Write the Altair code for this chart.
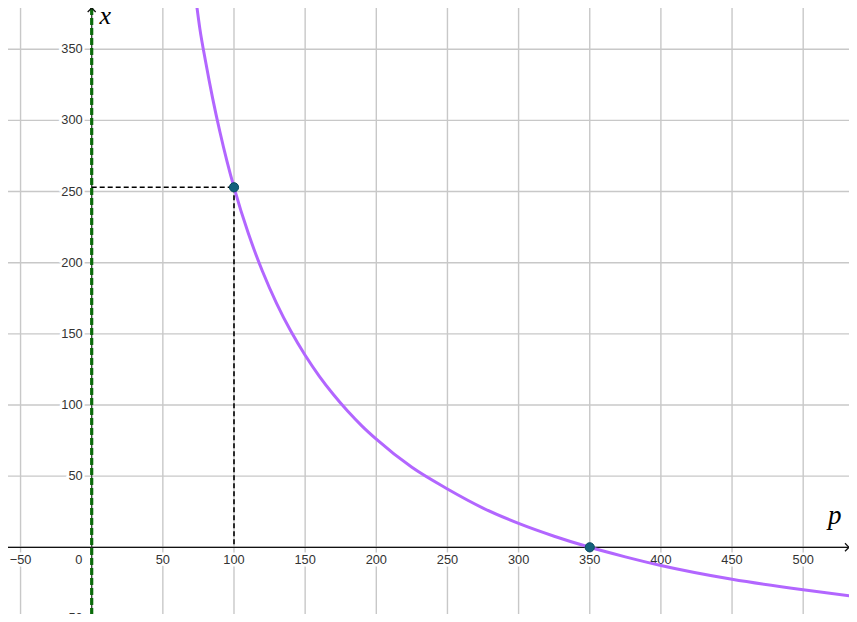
import altair as alt
import pandas as pd

# ---------------- data ----------------
curve_p = [73.3, 76, 80, 85, 90, 95, 100, 110, 120, 130, 140, 150, 160, 170, 180, 190, 200,
           225, 250, 275, 300, 325, 350, 375, 400, 450, 500, 537.8]
curve_x = [384.6, 364.5, 341.5, 315.5, 292.4, 271.6, 253, 220.8, 194, 171.3, 151.8, 135, 120.2,
           107.2, 95.6, 85.2, 76, 56.2, 41, 27.6, 16.8, 7.8, 0, -6.7, -12.8, -22.5, -29.9, -34.7]

point_p = [100, 350]
point_x = [253, 0]

guide_p_start = [0, 100]
guide_x_start = [253, 253]
guide_p_end = [100, 100]
guide_x_end = [253, 0]

grid_p = [-50, 0, 50, 100, 150, 200, 250, 300, 350, 400, 450, 500]
grid_x = [-50, 0, 50, 100, 150, 200, 250, 300, 350]

xtick_vals = [-50, 50, 100, 150, 200, 250, 300, 350, 400, 450, 500]
xtick_text = ["\u221250", "50", "100", "150", "200", "250", "300", "350", "400", "450", "500"]
ytick_vals = [-50, 50, 100, 150, 200, 250, 300, 350]
ytick_text = ["\u221250", "50", "100", "150", "200", "250", "300", "350"]

# ---------------- layout ----------------
W, H = 841, 606
P_MIN, P_MAX = -58.82, 532.19
X_MIN, X_MAX = -46.87, 378.99

xs = alt.Scale(domain=[P_MIN, P_MAX], nice=False, zero=False)
ys = alt.Scale(domain=[X_MIN, X_MAX], nice=False, zero=False)

df_curve = pd.DataFrame({"p": curve_p, "x": curve_x})
df_pts = pd.DataFrame({"p": point_p, "x": point_x})
df_guides = pd.DataFrame({"ps": guide_p_start, "xs": guide_x_start,
                          "pe": guide_p_end, "xe": guide_x_end})
df_gp = pd.DataFrame({"p": grid_p})
df_gx = pd.DataFrame({"x": grid_x})
df_xt = pd.DataFrame({"p": xtick_vals, "t": xtick_text, "z": [0] * len(xtick_vals)})
df_yt = pd.DataFrame({"x": ytick_vals, "t": ytick_text, "z": [0] * len(ytick_vals)})
df_origin = pd.DataFrame({"p": [0], "x": [0], "t": ["0"]})
df_xarrow = pd.DataFrame({"p": [P_MAX], "x": [0]})
df_yarrow = pd.DataFrame({"p": [0], "x": [X_MAX]})

X = lambda f: alt.X(f, scale=xs, axis=None)
Y = lambda f: alt.Y(f, scale=ys, axis=None)

GRID = "#c8c8c8"
LBL = "#333333"
FONT = "Liberation Sans"
FS = 12.8

grid_v = alt.Chart(df_gp).mark_rule(color=GRID, strokeWidth=1.4).encode(x=X("p:Q"))
grid_h = alt.Chart(df_gx).mark_rule(color=GRID, strokeWidth=1.4).encode(y=Y("x:Q"))

# label halos (white background like GeoGebra)
xt_halo = alt.Chart(df_xt).mark_text(font=FONT, fontSize=FS, color="white", stroke="white",
                                     strokeWidth=5, dy=13, baseline="middle").encode(
    x=X("p:Q"), y=Y("z:Q"), text="t:N")
yt_halo = alt.Chart(df_yt).mark_text(font=FONT, fontSize=FS, color="white", stroke="white",
                                     strokeWidth=5, dx=-9, align="right", baseline="middle").encode(
    x=X("z:Q"), y=Y("x:Q"), text="t:N")
o_halo = alt.Chart(df_origin).mark_text(font=FONT, fontSize=FS, color="white", stroke="white",
                                        strokeWidth=5, dx=-13, dy=13, baseline="middle").encode(
    x=X("p:Q"), y=Y("x:Q"), text="t:N")

x_axis = alt.Chart(pd.DataFrame({"x": [0]})).mark_rule(color="#111111", strokeWidth=1.3).encode(y=Y("x:Q"))
y_axis = alt.Chart(pd.DataFrame({"p": [0]})).mark_rule(color="#333333", strokeWidth=1.2).encode(x=X("p:Q"))

xt = alt.Chart(df_xt).mark_text(font=FONT, fontSize=FS, color=LBL, dy=13, baseline="middle").encode(
    x=X("p:Q"), y=Y("z:Q"), text="t:N")
yt = alt.Chart(df_yt).mark_text(font=FONT, fontSize=FS, color=LBL, dx=-9, align="right",
                                baseline="middle").encode(x=X("z:Q"), y=Y("x:Q"), text="t:N")
ot = alt.Chart(df_origin).mark_text(font=FONT, fontSize=FS, color=LBL, dx=-13, dy=13,
                                    baseline="middle").encode(x=X("p:Q"), y=Y("x:Q"), text="t:N")

guides = alt.Chart(df_guides).mark_rule(color="#000000", strokeWidth=1.6, strokeDash=[5, 3]).encode(
    x=X("ps:Q"), y=Y("xs:Q"), x2="pe:Q", y2="xe:Q")

curve = alt.Chart(df_curve).mark_line(color="#b266ff", strokeWidth=3, interpolate="monotone",
                                      clip=True).encode(x=X("p:Q"), y=Y("x:Q"), order="p:Q")

green = alt.Chart(pd.DataFrame({"p": [0]})).mark_rule(color="#0a6b0a", strokeWidth=3.2,
                                                      strokeDash=[7, 3]).encode(x=X("p:Q"))

pts = alt.Chart(df_pts).mark_point(shape="circle", filled=True, size=85, color="#13607c",
                                   stroke="#0b4a60", strokeWidth=1, opacity=1).encode(
    x=X("p:Q"), y=Y("x:Q"))

xarrow = alt.Chart(df_xarrow).mark_point(shape="M-1,-1L0,0L-1,1", filled=False, size=64,
                                         color="#111111", strokeWidth=1.3, opacity=1).encode(
    x=X("p:Q"), y=Y("x:Q"))
yarrow = alt.Chart(df_yarrow).mark_point(shape="M-1,1L0,0L1,1", filled=False, size=64,
                                         color="#111111", strokeWidth=1.3, opacity=1).encode(
    x=X("p:Q"), y=Y("x:Q"))

xtitle = alt.Chart(pd.DataFrame({"p": [0], "x": [X_MAX], "t": ["x"]})).mark_text(
    font="Liberation Serif", fontStyle="italic", fontSize=26, color="#000000",
    dx=13.5, dy=15.5, baseline="alphabetic", align="center").encode(
    x=X("p:Q"), y=Y("x:Q"), text="t:N")
ptitle = alt.Chart(pd.DataFrame({"p": [522.1], "x": [0], "t": ["p"]})).mark_text(
    font="Liberation Serif", fontStyle="italic", fontSize=27, color="#000000",
    dy=-23.5, baseline="alphabetic", align="center").encode(
    x=X("p:Q"), y=Y("x:Q"), text="t:N")

chart = alt.layer(
    grid_v, grid_h, xt_halo, yt_halo, o_halo, x_axis, y_axis, xt, yt, ot,
    guides, curve, green, pts, xarrow, yarrow, xtitle, ptitle
).properties(
    width=W, height=H, padding=0,
    autosize=alt.AutoSizeParams(type="none"),
    background="white",
).configure_view(stroke=None)

chart.save("out.html", embed_options={"renderer": "svg", "actions": False})
